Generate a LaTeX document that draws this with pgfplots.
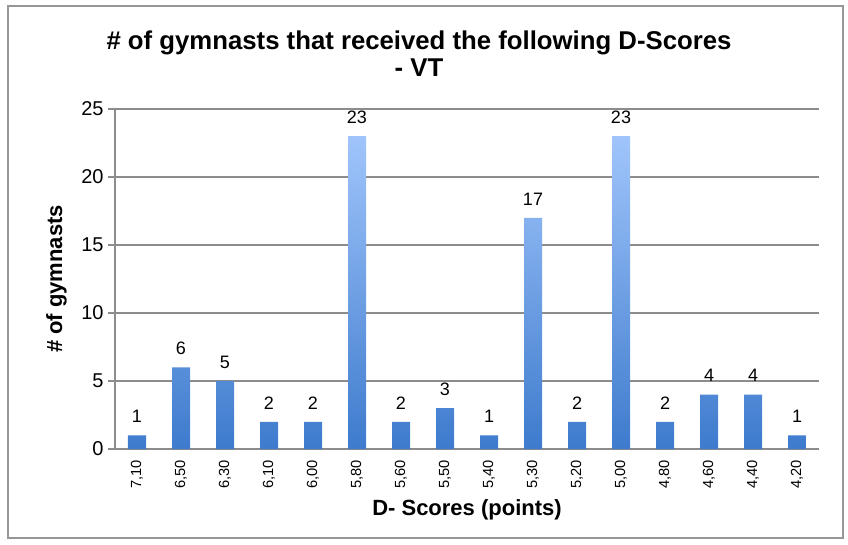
\documentclass[border=0pt]{standalone}
\usepackage{pgfplots}
\pgfplotsset{compat=1.18}
\usepackage{fontspec}
\setmainfont{Liberation Sans}

\definecolor{bartop}{HTML}{A0C5FB}
\definecolor{barbot}{HTML}{3E7BCD}
\definecolor{gridgray}{HTML}{8C8C8C}

\begin{document}
\begin{tikzpicture}
\path (-86.25pt,-71.25pt) rectangle (549.75pt,336.75pt);
\begin{axis}[
    at={(0pt,0pt)}, anchor=south west,
    scale only axis,
    width=528pt, height=255pt,
    xmin=-0.5, xmax=15.5,
    ymin=0, ymax=25,
    ytick={0,5,10,15,20,25},
    xtick=data,
    xticklabels={7{,}10,6{,}50,6{,}30,6{,}10,6{,}00,5{,}80,5{,}60,5{,}50,5{,}40,5{,}30,5{,}20,5{,}00,4{,}80,4{,}60,4{,}40,4{,}20},
    /pgf/number format/assume math mode=true,
    axis x line*=bottom,
    axis y line*=left,
    axis line style={gridgray, line width=1.2pt},
    ymajorgrids=true,
    grid style={gridgray, line width=1.1pt},
    major tick length=5pt,
    ytick style={gridgray, line width=1.1pt},
    xtick style={draw=none},
    tick align=outside,
    yticklabel style={font=\fontsize{15}{17}\selectfont},
    xticklabel style={rotate=90, anchor=east, font=\fontsize{11}{12}\selectfont},
    title={\# of gymnasts that received the following D-Scores\\- VT},
    title style={align=center, font=\bfseries\fontsize{19.3}{20}\selectfont, xshift=-36pt, yshift=15pt},
    xlabel={D- Scores (points)},
    xlabel style={font=\bfseries\fontsize{16.5}{18}\selectfont, yshift=-1pt},
    ylabel={\# of gymnasts},
    ylabel style={font=\bfseries\fontsize{16.5}{18}\selectfont, yshift=4pt},
    nodes near coords,
    every node near coord/.append style={font=\fontsize{13.5}{15}\selectfont, black, yshift=6pt},
]
\addplot[ybar, bar width=13.5pt, draw=none, top color=bartop, bottom color=barbot]
    coordinates {
    (0,1)(1,6)(2,5)(3,2)(4,2)(5,23)(6,2)(7,3)(8,1)(9,17)(10,2)(11,23)(12,2)(13,4)(14,4)(15,1)
    };
\end{axis}
\draw[gridgray!90, line width=1.2pt] (-80.25pt,-66.75pt) rectangle (546pt,332.25pt);
\end{tikzpicture}
\end{document}
